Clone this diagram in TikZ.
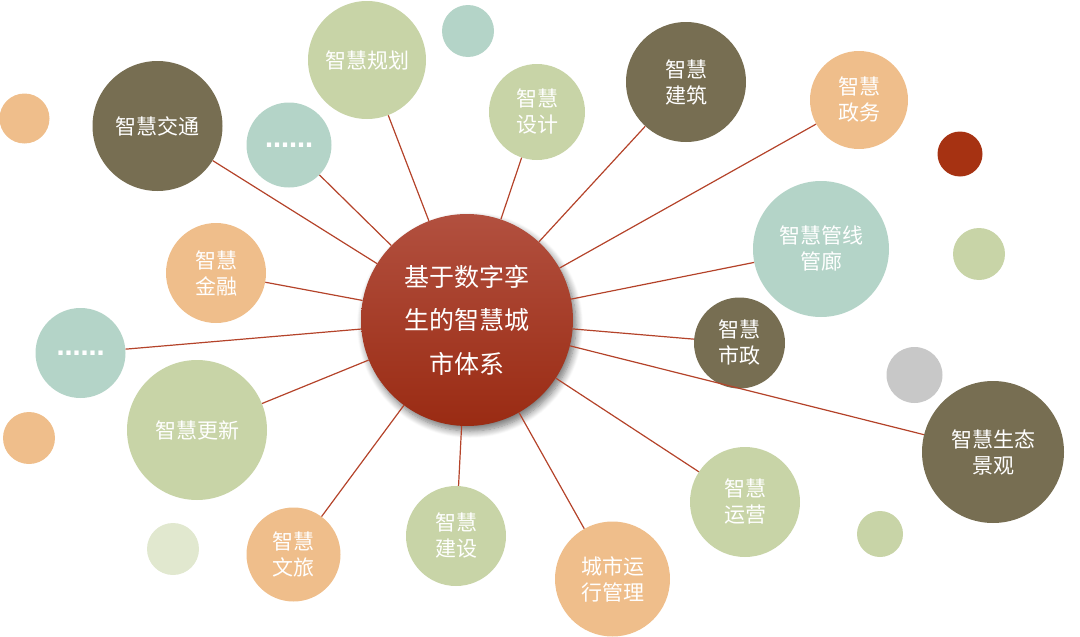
\documentclass[tikz,border=0pt]{standalone}
\usepackage{fontspec}
\newfontfamily\cjk{Noto Sans CJK SC}
\newfontfamily\dotfont{DejaVu Sans}
\usetikzlibrary{shadows.blur}
\definecolor{olive}{HTML}{776E52}
\definecolor{sage}{HTML}{C8D4A7}
\definecolor{teal}{HTML}{B4D4C8}
\definecolor{peach}{HTML}{EFBE8B}
\definecolor{rust}{HTML}{A63212}
\definecolor{greyc}{HTML}{C8C8C8}
\definecolor{pale}{HTML}{E1E8CF}
\definecolor{linec}{HTML}{B4432A}
\definecolor{ctop}{HTML}{B2503F}
\definecolor{cbot}{HTML}{9A2B13}
\tikzset{
  bubble/.style={circle, inner sep=0pt, minimum size=#1, text=white, align=center,
    font=\cjk\fontsize{21}{26}\selectfont},
  dotbubble/.style={circle, inner sep=0pt, minimum size=#1, text=white, align=center,
    font=\dotfont\bfseries\fontsize{24}{26}\selectfont},
  dot/.style={circle, inner sep=0pt, minimum size=#1},
  spoke/.style={draw=linec, line width=1.2pt},
}
\begin{document}
\begin{tikzpicture}[x=1pt,y=-1pt]
\useasboundingbox (0,0) rectangle (1080,637);
% decorative dots
\node[dot=50, fill=peach] (d1) at (24.5,118.5) {};
\node[dot=52, fill=teal] (d2) at (468,31) {};
\node[dot=45, fill=rust] (d3) at (960,154) {};
\node[dot=52, fill=sage] (d4) at (979,254) {};
\node[dot=56, fill=greyc] (d5) at (914.5,375) {};
\node[dot=52, fill=peach] (d6) at (29,438) {};
\node[dot=52, fill=pale] (d7) at (173,549) {};
\node[dot=46, fill=sage] (d8) at (880,534) {};
% centre
\node[circle, inner sep=0pt, minimum size=212, top color=ctop, bottom color=cbot,
  blur shadow={shadow xshift=3pt, shadow yshift=-5pt, shadow blur steps=10, shadow opacity=55, shadow blur radius=7pt},
  text=white, align=center, font=\cjk\fontsize{25}{43.5}\selectfont] (c) at (467,320)
  {基于数字孪\\生的智慧城\\市体系};
% satellites
\node[bubble=130, fill=olive] (jt) at (157.5,126) {智慧交通};
\node[dotbubble=85, fill=teal] (e1) at (289,145) {……};
\node[bubble=118, fill=sage] (gh) at (367,60) {智慧规划};
\node[bubble=96, fill=sage] (sj) at (537,112) {智慧\\设计};
\node[bubble=120, fill=olive] (jz) at (686,82) {智慧\\建筑};
\node[bubble=98, fill=peach] (zw) at (859,100) {智慧\\政务};
\node[bubble=136, fill=teal] (gx) at (821,249) {智慧管线\\管廊};
\node[bubble=100, fill=peach] (jr) at (216,273) {智慧\\金融};
\node[dotbubble=90, fill=teal] (e2) at (80.5,353) {……};
\node[bubble=91, fill=olive] (sz) at (739.5,343) {智慧\\市政};
\node[bubble=140, fill=sage] (gx2) at (197,430) {智慧更新};
\node[bubble=142, fill=olive] (st) at (993,452) {智慧生态\\景观};
\node[bubble=110, fill=sage] (yy) at (745,502) {智慧\\运营};
\node[bubble=94, fill=peach] (wl) at (293.5,554.5) {智慧\\文旅};
\node[bubble=100, fill=sage] (js) at (456,536) {智慧\\建设};
\node[bubble=115, fill=peach] (cs) at (612.5,579) {城市运\\行管理};
% spokes
\foreach \n in {jt,e1,gh,sj,jz,zw,gx,jr,e2,sz,gx2,st,yy,wl,js,cs}
  \draw[spoke] (c) -- (\n);
\end{tikzpicture}
\end{document}
